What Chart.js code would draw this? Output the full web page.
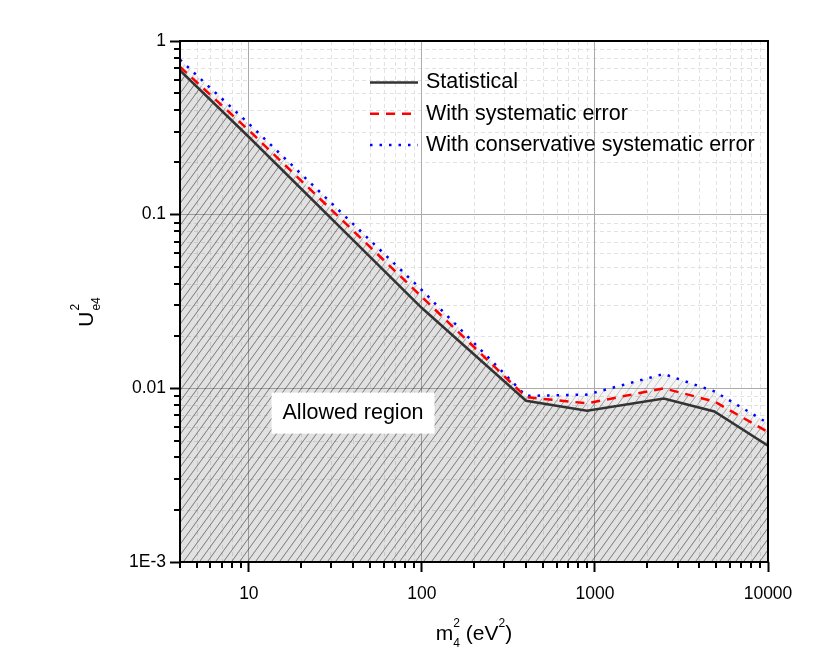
<!DOCTYPE html>
<html><head><meta charset="utf-8">
<script src="https://cdn.jsdelivr.net/npm/chart.js@4.4.1/dist/chart.umd.min.js"></script>
<style>html,body{margin:0;padding:0;background:#fff}#wrap{width:826px;height:648px;position:relative}</style>
</head><body><div id="wrap"><canvas id="c"></canvas></div>
<script>
// ---- data ----
const seriesNames = ['Statistical', 'With systematic error', 'With conservative systematic error'];
const statX = [4, 10, 100, 400, 900, 2500, 4900, 10000];
const statY = [0.677, 0.28, 0.029, 0.00848, 0.00743, 0.00874, 0.00736, 0.00467];
const sysX  = [4, 10, 100, 400, 900, 2500, 4900, 10000];
const sysY  = [0.71, 0.306, 0.0336, 0.0089, 0.0082, 0.0100, 0.0084, 0.0056];
const consX = [4, 10, 100, 400, 900, 2500, 4900, 10000];
const consY = [0.78, 0.334, 0.0368, 0.00905, 0.0092, 0.0121, 0.0096, 0.0063];

const xTickValues = [4,5,6,7,8,9,10,20,30,40,50,60,70,80,90,100,200,300,400,500,600,700,800,900,1000,2000,3000,4000,5000,6000,7000,8000,9000,10000];
const xMajorTicks = [10, 100, 1000, 10000];
const xMajorLabels = ['10', '100', '1000', '10000'];
const yTickValues = [0.001,0.002,0.003,0.004,0.005,0.006,0.007,0.008,0.009,0.01,0.02,0.03,0.04,0.05,0.06,0.07,0.08,0.09,0.1,0.2,0.3,0.4,0.5,0.6,0.7,0.8,0.9,1];
const yMajorTicks = [0.001, 0.01, 0.1, 1];
const yMajorLabels = ['1E-3', '0.01', '0.1', '1'];

const regionLabel = 'Allowed region';
const regionLabelAt = {x: 40, y: 0.0072};
const xTitle = {main: 'm', sup: '2', sub: '4', rest: ' (eV', restSup: '2', end: ')'};
const yTitle = {main: 'U', sup: '2', sub: 'e4'};

// ---- helpers ----
const FONT = "'Liberation Sans', Arial, sans-serif";
const isMajor = (v, list) => list.some(m => Math.abs(v / m - 1) < 1e-6);
const toXY = (xs, ys) => xs.map((x, i) => ({x, y: ys[i]}));

function hatch() {
  const w = 8, h = 11;
  const c = document.createElement('canvas');
  c.width = w; c.height = h;
  const g = c.getContext('2d');
  g.fillStyle = 'rgba(100,100,100,0.07)';
  g.fillRect(0, 0, w, h);
  g.strokeStyle = 'rgba(40,40,40,0.22)';
  g.lineWidth = 1;
  g.beginPath();
  g.moveTo(-w, h); g.lineTo(0, 0);
  g.moveTo(0, h); g.lineTo(w, 0);
  g.moveTo(w, h); g.lineTo(2 * w, 0);
  g.stroke();
  return g.createPattern(c, 'repeat');
}

const decor = {
  id: 'decor',
  beforeDraw(chart) {
    const {ctx, chartArea: a, scales: {x, y}} = chart;
    ctx.save();
    ctx.strokeStyle = '#e2e2e2';
    ctx.lineWidth = 1;
    ctx.setLineDash([4, 3]);
    ctx.beginPath();
    xTickValues.filter(v => !isMajor(v, xMajorTicks)).forEach(v => {
      const p = Math.round(x.getPixelForValue(v)) + 0.5;
      if (p > a.left + 1) { ctx.moveTo(p, a.top); ctx.lineTo(p, a.bottom); }
    });
    yTickValues.filter(v => !isMajor(v, yMajorTicks)).forEach(v => {
      const p = Math.round(y.getPixelForValue(v)) + 0.5;
      ctx.moveTo(a.left, p); ctx.lineTo(a.right, p);
    });
    ctx.stroke();
    ctx.restore();
  },
  afterDraw(chart) {
    const {ctx, chartArea: a, scales: {x, y}} = chart;
    ctx.save();
    // minor ticks
    ctx.strokeStyle = '#000';
    ctx.lineWidth = 2;
    ctx.beginPath();
    xTickValues.filter(v => !isMajor(v, xMajorTicks)).forEach(v => {
      const p = Math.round(x.getPixelForValue(v));
      ctx.moveTo(p, a.bottom); ctx.lineTo(p, a.bottom + 6);
    });
    yTickValues.filter(v => !isMajor(v, yMajorTicks)).forEach(v => {
      const p = Math.round(y.getPixelForValue(v));
      ctx.moveTo(a.left - 6, p); ctx.lineTo(a.left, p);
    });
    ctx.stroke();
    // frame
    ctx.lineWidth = 2;
    ctx.strokeStyle = '#000';
    ctx.strokeRect(a.left, a.top, a.right - a.left, a.bottom - a.top);

    // legend
    ctx.font = '21.5px ' + FONT;
    ctx.textBaseline = 'middle';
    ctx.textAlign = 'left';
    seriesNames.forEach((name, i) => {
      const ds = chart.data.datasets.find(d => d.label === name);
      const yy = a.top + 41.5 + i * 31.3;
      const x0 = a.left + 190, x1 = x0 + 48;
      ctx.save();
      ctx.strokeStyle = ds.borderColor;
      ctx.lineWidth = ds.borderWidth;
      ctx.setLineDash(ds.borderDash || []);
      ctx.beginPath(); ctx.moveTo(x0, yy); ctx.lineTo(x1, yy); ctx.stroke();
      ctx.restore();
      ctx.fillStyle = '#000';
      ctx.fillText(name, x1 + 8, yy);
    });

    // allowed region label
    const cx = x.getPixelForValue(regionLabelAt.x), cy = y.getPixelForValue(regionLabelAt.y);
    ctx.font = '21.5px ' + FONT;
    const tw = ctx.measureText(regionLabel).width;
    ctx.fillStyle = '#fff';
    ctx.fillRect(cx - tw / 2 - 11, cy - 20.5, tw + 22, 41);
    ctx.fillStyle = '#000';
    ctx.textAlign = 'center';
    ctx.textBaseline = 'middle';
    ctx.fillText(regionLabel, cx, cy);

    // x title
    ctx.textAlign = 'left';
    ctx.textBaseline = 'alphabetic';
    const big = '21px ' + FONT, small = '12px ' + FONT;
    ctx.font = big;
    const wm = ctx.measureText(xTitle.main).width;
    const wr = ctx.measureText(xTitle.rest).width;
    const we = ctx.measureText(xTitle.end).width;
    ctx.font = small;
    const ws = Math.max(ctx.measureText(xTitle.sup).width, ctx.measureText(xTitle.sub).width);
    const wrs = ctx.measureText(xTitle.restSup).width;
    const total = wm + ws + wr + wrs + we;
    let px = (a.left + a.right) / 2 - total / 2;
    const base = 640;
    ctx.font = big; ctx.fillText(xTitle.main, px, base); px += wm;
    ctx.font = small; ctx.fillText(xTitle.sup, px, base - 13); ctx.fillText(xTitle.sub, px, base + 7); px += ws;
    ctx.font = big; ctx.fillText(xTitle.rest, px, base); px += wr;
    ctx.font = small; ctx.fillText(xTitle.restSup, px, base - 13); px += wrs;
    ctx.font = big; ctx.fillText(xTitle.end, px, base);

    // y title (rotated)
    ctx.font = big;
    const wu = ctx.measureText(yTitle.main).width;
    ctx.font = small;
    const wys = Math.max(ctx.measureText(yTitle.sup).width, ctx.measureText(yTitle.sub).width);
    const ylen = wu + 1 + wys;
    ctx.translate(93, 312 + ylen / 2);
    ctx.rotate(-Math.PI / 2);
    ctx.font = big; ctx.fillText(yTitle.main, 0, 0);
    ctx.font = small; ctx.fillText(yTitle.sup, wu + 1, -14); ctx.fillText(yTitle.sub, wu + 1, 7);
    ctx.restore();
  }
};

const pat = hatch();
const tickFont = {family: FONT, size: 17.5};

new Chart(document.getElementById('c'), {
  type: 'line',
  data: {
    datasets: [
      {label: seriesNames[0], data: toXY(statX, statY), borderColor: '#333333', borderWidth: 2.5,
       backgroundColor: pat, fill: 'start', pointRadius: 0, tension: 0},
      {label: seriesNames[1], data: toXY(sysX, sysY), borderColor: '#ff0000', borderWidth: 2.5, borderDash: [9, 7],
       backgroundColor: pat, fill: 'start', pointRadius: 0, tension: 0},
      {label: seriesNames[2], data: toXY(consX, consY), borderColor: '#0000ff', borderWidth: 2.5, borderDash: [2.5, 7],
       backgroundColor: pat, fill: 'start', pointRadius: 0, tension: 0}
    ]
  },
  options: {
    responsive: true, maintainAspectRatio: false, animation: false, devicePixelRatio: 1,
    layout: {padding: {left: 0, top: 41, right: 58, bottom: 0}},
    plugins: {legend: {display: false}, tooltip: {enabled: false}, filler: {drawTime: 'beforeDatasetsDraw'}},
    scales: {
      x: {
        type: 'logarithmic', min: 4, max: 10000, position: 'bottom',
        afterBuildTicks: s => { s.ticks = xTickValues.map(v => ({value: v, major: isMajor(v, xMajorTicks)})); },
        afterFit: s => { s.height = 86; },
        border: {display: false},
        grid: {
          color: c => (c.tick && isMajor(c.tick.value, xMajorTicks)) ? '#ababab' : 'rgba(0,0,0,0)',
          lineWidth: 1, drawTicks: true, tickLength: 10, tickWidth: 2,
          tickColor: c => (c.tick && isMajor(c.tick.value, xMajorTicks)) ? '#000' : 'rgba(0,0,0,0)'
        },
        ticks: {
          autoSkip: false, maxRotation: 0, padding: 12, color: '#000', font: tickFont,
          callback: v => { const i = xMajorTicks.findIndex(m => Math.abs(v / m - 1) < 1e-6); return i >= 0 ? xMajorLabels[i] : ''; }
        }
      },
      y: {
        type: 'logarithmic', min: 0.001, max: 1, position: 'left',
        afterBuildTicks: s => { s.ticks = yTickValues.map(v => ({value: v, major: isMajor(v, yMajorTicks)})); },
        afterFit: s => { s.width = 180; },
        border: {display: false},
        grid: {
          color: c => (c.tick && isMajor(c.tick.value, yMajorTicks)) ? '#ababab' : 'rgba(0,0,0,0)',
          lineWidth: 1, drawTicks: true, tickLength: 10, tickWidth: 2,
          tickColor: c => (c.tick && isMajor(c.tick.value, yMajorTicks)) ? '#000' : 'rgba(0,0,0,0)'
        },
        ticks: {
          autoSkip: false, padding: 4, color: '#000', font: tickFont,
          callback: v => { const i = yMajorTicks.findIndex(m => Math.abs(v / m - 1) < 1e-6); return i >= 0 ? yMajorLabels[i] : ''; }
        }
      }
    }
  },
  plugins: [decor]
});
</script></body></html>
